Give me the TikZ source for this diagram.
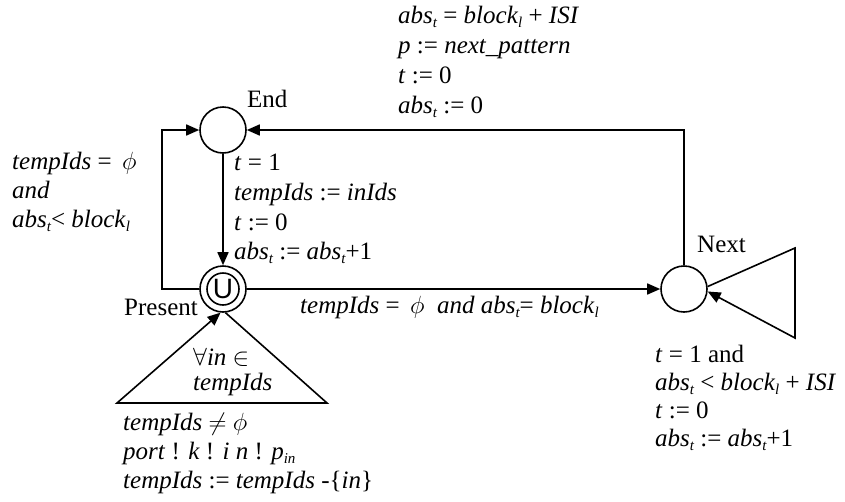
\documentclass[tikz,border=0pt]{standalone}
\usepackage{fontspec}
\setmainfont{Liberation Serif}
\setsansfont{Liberation Sans}
\usetikzlibrary{arrows.meta}
\newcommand\sbi[1]{\raisebox{-0.4ex}{\fontsize{15}{15}\selectfont\itshape #1}}
\begin{document}
\begin{tikzpicture}[x=1pt,y=-1pt,
  st/.style={circle,draw,line width=1.6pt,minimum size=46pt,inner sep=0pt},
  lbl/.style={font=\fontsize{25}{29}\selectfont,anchor=base west,inner sep=0pt},
  con/.style={line width=1.6pt,-{Triangle[length=13pt,width=11pt]}},
  ln/.style={line width=1.6pt}]
\useasboundingbox (0,0) rectangle (845,501);
% states
\node[st] (end) at (223,130) {};
\node[st] (pres) at (223,289) {};
\node[circle,draw,line width=1.6pt,minimum size=32pt,inner sep=0pt,font=\fontsize{28}{28}\sffamily] (presin) at (223,289) {U};
\node[st] (next) at (684,289) {};
% state labels
\node[lbl] (lend) at (247,107) {End};
\node[lbl] (lnext) at (697,252) {Next};
\node[lbl,anchor=base east] (lpres) at (198,315) {Present};
% helper points
\coordinate (lc1) at (162,289);
\coordinate (lc2) at (162,130);
\coordinate (nt) at (795,248);
\coordinate (nb) at (795,338);
\coordinate (pl) at (117,403);
\coordinate (pr) at (327,403);
% connectors
\draw[con] (end) -- (presin.north |- pres.north);
\draw[con] (pres.west) -- (lc1) -- (lc2) -- (end.west);
\draw[con] (pres.east) -- (next.west);
\draw[con] (next.north) -- (next.north |- end.east) -- (end.east);
\draw[con] (next.6) -- (nt) -- (nb) -- (next.-6);
\draw[con] (pres.-84) -- (pr) -- (pl) -- (pres.-96);
% top label
\node[lbl] (t1) at (398,23) {\textit{abs}\sbi{t} = \textit{block}\sbi{l} + \textit{ISI}};
\node[lbl] (t2) at (398,53) {\textit{p} := \textit{next\_pattern}};
\node[lbl] (t3) at (398,83) {\textit{t} := 0};
\node[lbl] (t4) at (398,113) {\textit{abs}\sbi{t} := 0};
% left label
\node[lbl] (l1) at (12,169) {\textit{tempIds} = \,$\phi$};
\node[lbl] (l2) at (12,198) {\textit{and}};
\node[lbl] (l3) at (12,227) {\textit{abs}\sbi{t}< \textit{block}\sbi{l}};
% middle label
\node[lbl] (m1) at (234,170) {\textit{t} = 1};
\node[lbl] (m2) at (234,200) {\textit{tempIds} := \textit{inIds}};
\node[lbl] (m3) at (234,230) {\textit{t} := 0};
\node[lbl] (m4) at (234,259) {\textit{abs}\sbi{t} := \textit{abs}\sbi{t}+1};
% horizontal label
\node[lbl] (h1) at (300,313) {\textit{tempIds} = \,$\phi$\ \ \textit{and abs}\sbi{t}= \textit{block}\sbi{l}};
% right label
\node[lbl] (r1) at (655,362) {\textit{t} = 1 and};
\node[lbl] (r2) at (655,390) {\textit{abs}\sbi{t} < \textit{block}\sbi{l} + \textit{ISI}};
\node[lbl] (r3) at (655,418) {\textit{t} := 0};
\node[lbl] (r4) at (655,446) {\textit{abs}\sbi{t} := \textit{abs}\sbi{t}+1};
% triangle label
\node[lbl] (q1) at (193,365) {$\forall$\textit{in} $\in$};
\node[lbl] (q2) at (193,390) {\textit{tempIds}};
% bottom label
\node[lbl] (b1) at (123,430) {\textit{tempIds} $\neq$ $\phi$};
\node[lbl] (b2) at (123,459) {\textit{port} ! \textit{k} ! \textit{i n} ! \textit{p}\sbi{in}};
\node[lbl] (b3) at (123,488) {\textit{tempIds} := \textit{tempIds} -\{\textit{in}\}};
\end{tikzpicture}
\end{document}
